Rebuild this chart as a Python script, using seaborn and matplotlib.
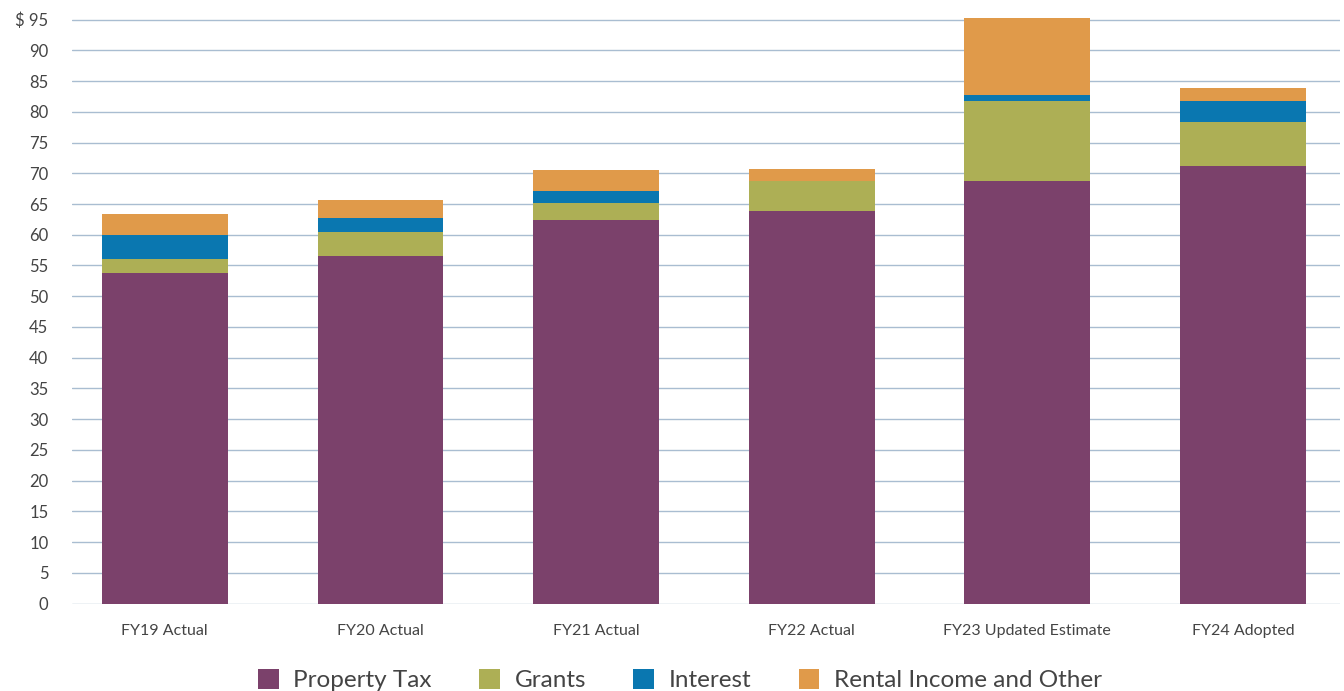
import matplotlib
matplotlib.use('Agg')
import matplotlib.pyplot as plt
import seaborn as sns
import numpy as np
import pandas as pd
from matplotlib.patches import Patch

# ============================================
# DATA (millions $)
# ============================================
categories = ['FY19 Actual', 'FY20 Actual', 'FY21 Actual', 'FY22 Actual',
              'FY23 Updated Estimate', 'FY24 Adopted']
property_tax = [53.8, 56.5, 62.4, 63.9, 68.7, 71.2]
grants = [2.3, 3.9, 2.8, 4.8, 13.0, 7.2]
interest = [3.8, 2.4, 2.0, 0.0, 1.1, 3.4]
rental_other = [3.4, 2.8, 3.4, 2.0, 12.5, 2.1]

series_names = ['Property Tax', 'Grants', 'Interest', 'Rental Income and Other']
colors = ['#7B416B', '#ADAF55', '#0A77B0', '#E09A4A']
yticks = list(range(0, 100, 5))
ytick_labels = [str(v) for v in yticks[:-1]] + ['\\$ 95']

# ============================================
# PLOT
# ============================================
sns.set_style('white')
plt.rcParams['font.family'] = ['Lato', 'DejaVu Sans']

df = pd.DataFrame({'category': categories, 'Property Tax': property_tax,
                   'Grants': grants, 'Interest': interest,
                   'Rental Income and Other': rental_other})
cum = df[series_names].cumsum(axis=1)

fig = plt.figure(figsize=(13.44, 6.91), dpi=100)
ax = fig.add_axes([0.0536, 0.1266, 0.9434, 0.8494])

# draw from the top of the stack down so lower layers overlay
for name, color in reversed(list(zip(series_names, colors))):
    sns.barplot(x=df['category'], y=cum[name], color=color, width=0.583,
                saturation=1, linewidth=0, ax=ax, zorder=3)

ax.set_xlim(-0.43, 5.45)
ax.set_ylim(0, 95.5)
ax.set_yticks(yticks)
ax.set_yticklabels(ytick_labels)
ax.grid(axis='y', color='#A9BDD1', linewidth=1, zorder=0)
ax.set_axisbelow(True)
for s in ax.spines.values():
    s.set_visible(False)
ax.tick_params(axis='y', length=0, pad=17, labelsize=12, labelcolor='#444444')
ax.tick_params(axis='x', length=0, pad=15, labelsize=11.5, labelcolor='#444444')
ax.set_xlabel('')
ax.set_ylabel('')

handles = [Patch(facecolor=c, edgecolor='none') for c in colors]
fig.legend(handles, series_names, loc='lower center', bbox_to_anchor=(0.506, -0.032),
           ncol=4, frameon=False, fontsize=17.5, handlelength=0.85, handleheight=0.85,
           columnspacing=1.95, handletextpad=0.6, labelcolor='#444444')

plt.savefig('out.png', dpi=100)
plt.close()
